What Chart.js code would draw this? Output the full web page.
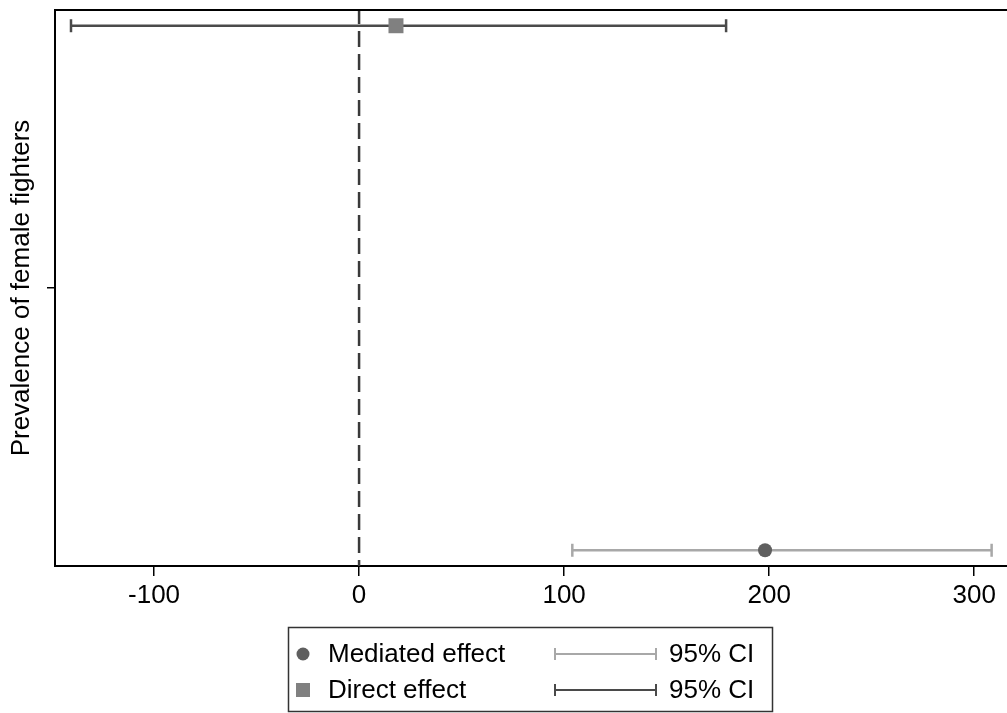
<!DOCTYPE html>
<html>
<head>
<meta charset="utf-8">
<script src="https://cdn.jsdelivr.net/npm/chart.js@4"></script>
<style>
  body { margin: 0; background: #fff; }
  canvas { display: block; }
</style>
</head>
<body>
<canvas id="effectChart" width="1007" height="713"></canvas>
<script>
// Mediated vs direct effect, point estimates with 95% CI
const effects = ['Mediated effect', 'Direct effect'];
const effectRows = [0, 1];
const estimates = [198, 18];
const ciLower = [104, -140.5];
const ciUpper = [308.5, 179];
const xTicks = [-100, 0, 100, 200, 300];
const yTitle = 'Prevalence of female fighters';
const ciLabel = '95% CI';

const FONT = '"Liberation Sans", Arial, Helvetica, sans-serif';
const FONT_SIZE = 26;
const pointColors = ['#5f5f5f', '#808080'];
const ciColors = ['#a8a8a8', '#4a4a4a'];
const pointStyles = ['circle', 'rect'];
const pointSizes = [7, 10.6];

const datasets = [];
effects.forEach((name, i) => {
    datasets.push({
        label: name,
        data: [{ x: estimates[i], y: effectRows[i] }],
        pointStyle: pointStyles[i],
        pointRadius: pointSizes[i],
        backgroundColor: pointColors[i],
        borderColor: pointColors[i],
        borderWidth: 0,
        order: 0
    });
    datasets.push({
        label: ciLabel,
        data: [{ x: ciLower[i], y: effectRows[i] }, { x: ciUpper[i], y: effectRows[i] }],
        showLine: true,
        borderColor: ciColors[i],
        borderWidth: 2.5,
        pointStyle: 'line',
        rotation: 90,
        pointRadius: 6.5,
        pointBorderColor: ciColors[i],
        pointBorderWidth: 2.5,
        order: 1
    });
});
// zero reference line
datasets.push({
    label: 'zero',
    data: [{ x: 0, y: -0.03 }, { x: 0, y: 1.03 }],
    showLine: true,
    borderColor: '#3a3a3a',
    borderWidth: 2.5,
    borderDash: [16, 7],
    borderDashOffset: 10,
    pointRadius: 0,
    order: 2
});

// top frame line
const framePlugin = {
    id: 'frame',
    afterDatasetsDraw(chart) {
        const a = chart.chartArea;
        const c = chart.ctx;
        c.save();
        c.strokeStyle = '#000';
        c.lineWidth = 2;
        c.beginPath();
        c.moveTo(a.left - 1, a.top);
        c.lineTo(chart.width, a.top);
        c.stroke();
        c.restore();
    }
};

// boxed legend below the plot
const legendPlugin = {
    id: 'boxLegend',
    afterDraw(chart) {
        const c = chart.ctx;
        c.save();
        c.strokeStyle = '#333';
        c.lineWidth = 1.5;
        c.strokeRect(288.5, 627.5, 484, 84);
        c.font = FONT_SIZE + 'px ' + FONT;
        c.textBaseline = 'middle';
        const rows = [654, 690];
        effects.forEach((name, i) => {
            const y = rows[i];
            c.fillStyle = pointColors[i];
            if (pointStyles[i] === 'circle') {
                c.beginPath();
                c.arc(303, y, 6.5, 0, Math.PI * 2);
                c.fill();
            } else {
                c.fillRect(296, y - 7, 14, 14);
            }
            c.fillStyle = '#000';
            c.fillText(name, 328, y + 1);
            c.strokeStyle = ciColors[i];
            c.lineWidth = 2;
            c.beginPath();
            c.moveTo(555, y); c.lineTo(656, y);
            c.moveTo(555, y - 6); c.lineTo(555, y + 6);
            c.moveTo(656, y - 6); c.lineTo(656, y + 6);
            c.stroke();
            c.fillText(ciLabel, 669, y + 1);
        });
        c.restore();
    }
};

new Chart(document.getElementById('effectChart'), {
    type: 'scatter',
    data: { datasets: datasets },
    plugins: [framePlugin, legendPlugin],
    options: {
        responsive: false,
        animation: false,
        layout: { autoPadding: false, padding: { top: 10, right: 0, left: 0, bottom: 0 } },
        plugins: {
            legend: { display: false },
            tooltip: { enabled: false }
        },
        scales: {
            x: {
                type: 'linear',
                min: -148.3,
                max: 316,
                afterBuildTicks: s => { s.ticks = xTicks.map(v => ({ value: v })); },
                afterFit: s => { s.height = 147; s.paddingLeft = 0; s.paddingRight = 0; },
                grid: { drawOnChartArea: false, tickLength: 10, color: '#000', lineWidth: 1.5 },
                border: { color: '#000', width: 2 },
                ticks: { font: { family: FONT, size: FONT_SIZE }, color: '#000', padding: 4, maxRotation: 0 }
            },
            y: {
                type: 'linear',
                min: -0.03,
                max: 1.03,
                afterBuildTicks: s => { s.ticks = [{ value: 0.5 }]; },
                afterFit: s => { s.width = 55; },
                grid: { drawOnChartArea: false, tickLength: 8, color: '#000', lineWidth: 1.5 },
                border: { color: '#000', width: 2 },
                ticks: { callback: () => '', padding: 0 },
                title: { display: true, text: yTitle, font: { family: FONT, size: FONT_SIZE }, color: '#000', padding: { top: 6, bottom: 0 } }
            }
        }
    }
});
</script>
</body>
</html>
